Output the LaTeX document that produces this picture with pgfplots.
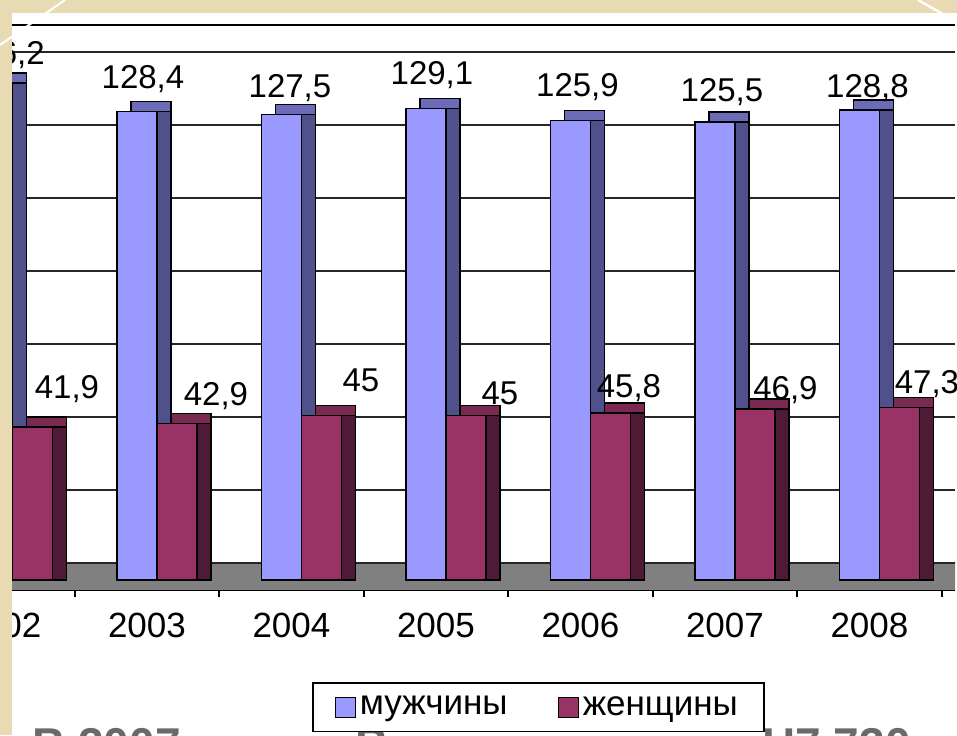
\documentclass[border=0pt]{standalone}
\usepackage{pgfplots}
\pgfplotsset{compat=1.18}
\usepackage{pgfplotstable}
\usepackage{fontspec}
\setmainfont{Liberation Sans}
\definecolor{menF}{HTML}{9999FF}
\definecolor{menS}{HTML}{50508A}
\definecolor{menT}{HTML}{6B6BB8}
\definecolor{womF}{HTML}{993366}
\definecolor{womS}{HTML}{4F1A35}
\definecolor{womT}{HTML}{7A2950}
\definecolor{floorc}{HTML}{808080}
\definecolor{beige}{HTML}{E8DBB3}
\definecolor{slidegray}{HTML}{6A6A6A}

\pgfplotstableread{
x y dx dy
2002 136.2 0.5 9
2003 128.4 -2 11.5
2004 127.5 -0.75 8.5
2005 129.1 -2 12
2006 125.9 -1.5 11.75
2007 125.5 -1.5 10
2008 128.8 -1 6
}\men

\pgfplotstableread{
x y dx dy
2002 41.9 32.25 14.5
2003 42.9 34.5 9
2004 45 34.75 12
2005 45 32 5.5
2006 45.8 24.25 7.5
2007 46.9 30.25 4.5
2008 47.3 28.75 7
}\women

\begin{document}
\begin{tikzpicture}
\fill[white] (0,0) rectangle (478.5pt,367.5pt);
% slide text partly hidden below the chart
\node[anchor=base west, inner sep=0pt, text=slidegray, font=\fontsize{23}{27}\selectfont\bfseries] at (16pt,-12.5pt) {В 2007};
\node[anchor=base west, inner sep=0pt, text=slidegray, font=\fontsize{23}{27}\selectfont\bfseries] at (177.5pt,-12.5pt) {В};
\node[anchor=base west, inner sep=0pt, text=slidegray, font=\fontsize{23}{27}\selectfont\bfseries] at (381pt,-12.5pt) {Н7 730};

\begin{axis}[
  at={(-6pt,72.5pt)}, anchor=south west,
  scale only axis, width=483.5pt, height=282.5pt,
  xmin=2001.9, xmax=2008.592, ymin=-2.74, ymax=152.05,
  separate axis lines,
  y axis line style={draw=none},
  x axis line style={line width=0.9pt, draw=black},
  xtick={2002,2003,2004,2005,2006,2007,2008},
  xticklabels={2002,2003,2004,2005,2006,2007,2008},
  minor xtick={2002.5,2003.5,2004.5,2005.5,2006.5,2007.5,2008.5},
  major tick length=0pt, minor tick length=3.5pt,
  tick align=outside, xtick pos=bottom, ytick pos=left,
  minor tick style={black, line width=0.8pt},
  ytick={4.66,24.66,44.66,64.66,84.66,104.66,124.66,144.66},
  yticklabels={},
  ymajorgrids=true,
  major grid style={black!85, line width=0.75pt},
  xticklabel style={font=\fontsize{17.5}{20}\selectfont, inner sep=0pt, anchor=north, yshift=-11.5pt},
  /pgf/number format/.cd, use comma, assume math mode=true, /pgfplots/.cd,
  legend style={at={(axis description cs:0.335,-0.1628)}, anchor=north west,
    draw=black, line width=0.8pt, fill=white, legend columns=2,
    font=\fontsize{17.5}{20}\selectfont, inner xsep=11pt, inner ysep=4.75pt,
    nodes={inner sep=2pt},
    /tikz/every even column/.append style={column sep=23pt}},
  legend image code/.code={\draw[#1, draw=black, line width=0.6pt] (0pt,-5pt) rectangle (10pt,5pt);},
  clip=true,
  bars/.style={ybar, bar width=20pt, draw=black, line width=0.7pt},
]
\fill[floorc] (axis cs:2001,-2.74) rectangle (axis cs:2009,4.66);
\draw[black!85, line width=0.75pt] (axis cs:2001,4.66) -- (axis cs:2009,4.66);

% men: top face, side face, front face
\addplot[bars, bar shift=-5pt, xshift=7pt, yshift=5pt, fill=menT, forget plot] table[x=x,y=y]{\men};
\addplot[bars, bar shift=-5pt, xshift=7pt, fill=menS, forget plot] table[x=x,y=y]{\men};
\addplot[bars, bar shift=-5pt, fill=menF,
  visualization depends on={\thisrow{dx}\as\dx},
  visualization depends on={\thisrow{dy}\as\dy},
  nodes near coords,
  every node near coord/.append style={anchor=base, xshift=\dx pt, yshift=\dy pt, black, inner sep=0pt, font=\fontsize{16.5}{19}\selectfont}
  ] table[x=x,y=y]{\men};
\addlegendentry{мужчины}
% women: top face, side face, front face
\addplot[bars, bar shift=15pt, xshift=7pt, yshift=5pt, fill=womT, forget plot] table[x=x,y=y]{\women};
\addplot[bars, bar shift=15pt, xshift=7pt, fill=womS, forget plot] table[x=x,y=y]{\women};
\addplot[bars, bar shift=15pt, fill=womF,
  visualization depends on={\thisrow{dx}\as\dx},
  visualization depends on={\thisrow{dy}\as\dy},
  nodes near coords,
  every node near coord/.append style={anchor=base, xshift=\dx pt, yshift=\dy pt, black, inner sep=0pt, font=\fontsize{16.5}{19}\selectfont}
  ] table[x=x,y=y]{\women};
\addlegendentry{женщины}
\end{axis}

% slide border
\fill[beige] (0,361pt) rectangle (478.5pt,367.5pt);
\fill[beige] (0,0) rectangle (6pt,367.5pt);
\draw[white, line width=1pt] (0,345pt) -- (32.5pt,367.5pt);
\draw[white, line width=1.2pt] (459pt,367.5pt) -- (478.5pt,356.5pt);
\pgfresetboundingbox
\useasboundingbox (0,0) rectangle (478.5pt,367.5pt);
\end{tikzpicture}
\end{document}
